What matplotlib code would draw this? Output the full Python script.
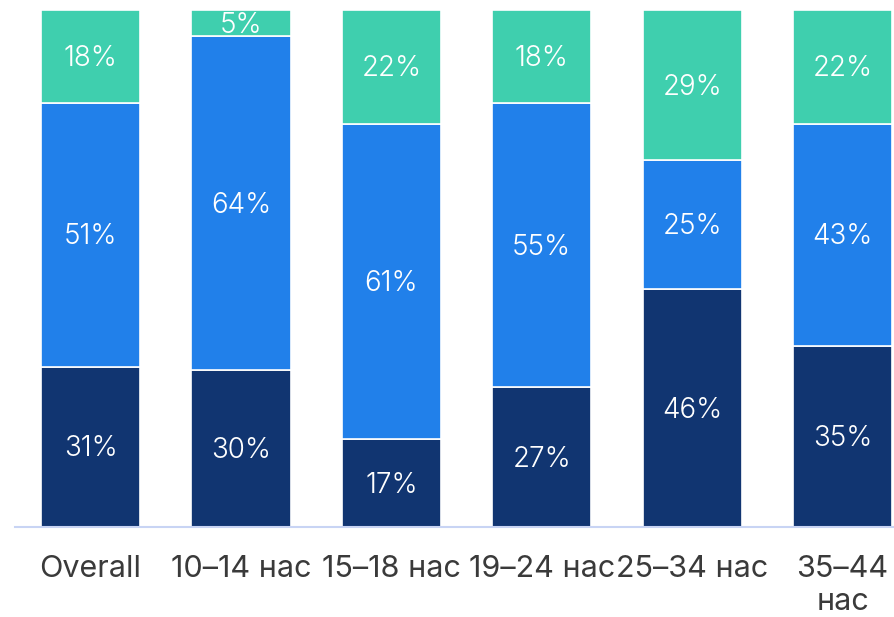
import numpy as np
import matplotlib.pyplot as plt

plt.rcParams['font.family'] = ['Inter', 'DejaVu Sans']

categories = ["Overall", "10–14 нас", "15–18 нас", "19–24 нас", "25–34 нас", "35–44\nнас"]
bottom_vals = [31, 30, 17, 27, 46, 35]
middle_vals = [51, 64, 61, 55, 25, 43]
top_vals = [18, 5, 22, 18, 29, 22]

colors = ["#113571", "#2180ea", "#3fcfae"]

series = np.array([bottom_vals, middle_vals, top_vals], dtype=float)
# bars are shown as shares of 100%
series = series / series.sum(axis=0) * 100

fig = plt.figure(figsize=(8.94, 6.17), dpi=100)
ax = fig.add_axes([15 / 894, 90 / 617, 879 / 894, 517 / 617])

x = np.arange(len(categories))
base = np.zeros(len(categories))
for vals, raw, color in zip(series, [bottom_vals, middle_vals, top_vals], colors):
    ax.bar(x, vals, width=0.66, bottom=base, color=color, edgecolor="white", linewidth=1.2)
    for xi, b, v, r in zip(x, base, vals, raw):
        ax.text(xi, b + v / 2 - 0.4, f"{r}%", ha="center", va="center", color="white",
                fontsize=20, fontweight=300)
    base += vals

ax.set_xlim(-0.502, 5.342)
ax.set_ylim(0, 100)
ax.set_xticks(x)
ax.set_xticklabels(categories, fontsize=22, color="#3a3a3a", linespacing=1.22)
ax.tick_params(axis="x", length=0, pad=20)
ax.set_yticks([])
for side in ["top", "right", "left"]:
    ax.spines[side].set_visible(False)
ax.spines["bottom"].set_color("#c8d4f4")
ax.spines["bottom"].set_linewidth(1.5)

fig.savefig("out.png", dpi=100)
